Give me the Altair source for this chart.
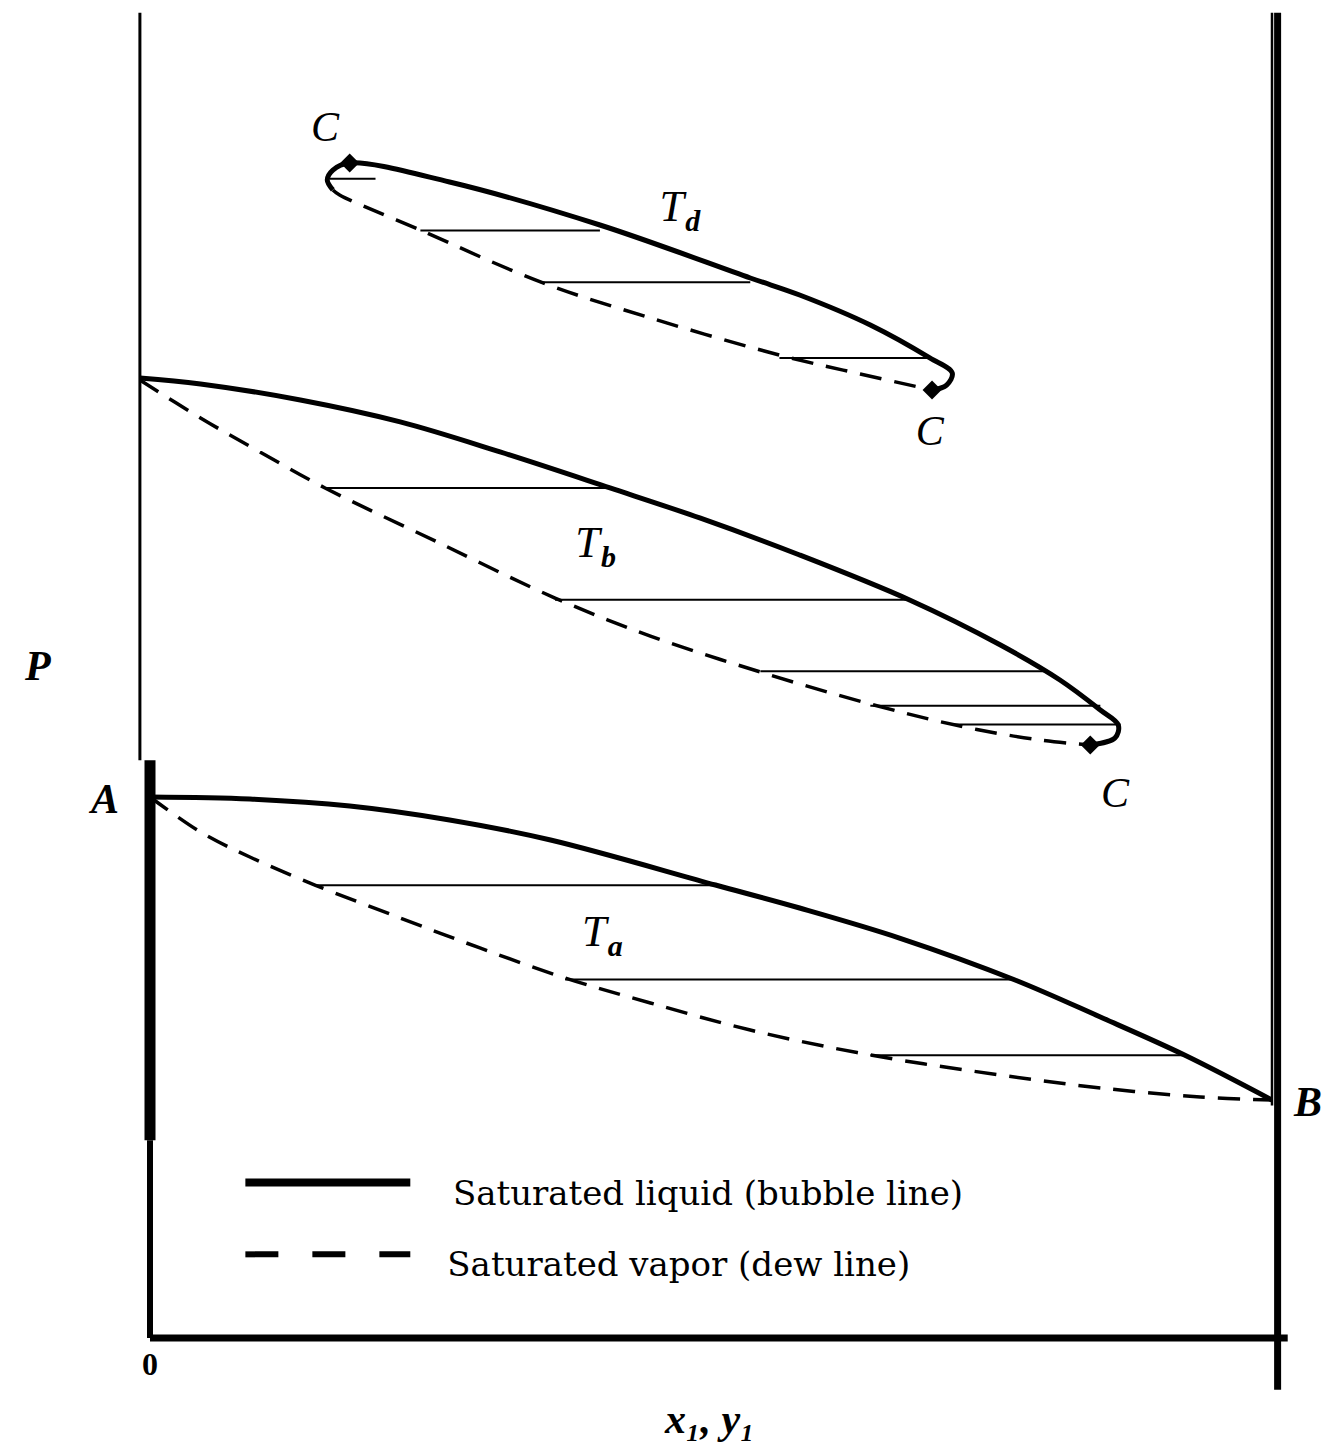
import altair as alt
import pandas as pd

# ---- data (x = mole fraction 0..1, P arbitrary units 0..100) ----
ta_bub_x = [0.0, 0.089, 0.178, 0.267, 0.357, 0.504, 0.579, 0.668, 0.771, 0.847, 0.922, 1.0]
ta_bub_p = [40.74, 40.59, 40.06, 39.01, 37.50, 34.11, 32.38, 30.12, 26.96, 24.17, 21.31, 17.92]
ta_dew_x = [0.0, 0.045, 0.089, 0.147, 0.223, 0.294, 0.370, 0.446, 0.535, 0.642, 0.758, 0.847, 0.936, 1.0]
ta_dew_p = [40.74, 38.10, 36.22, 34.11, 31.63, 29.37, 27.11, 25.23, 23.19, 21.31, 19.80, 18.83, 18.15, 17.92]
ta_tie_p = [34.1, 27.0, 21.3]
ta_tie_x1 = [0.147, 0.370, 0.642]
ta_tie_x2 = [0.504, 0.771, 0.922]

tb_bub_x = [-0.009, 0.045, 0.134, 0.223, 0.312, 0.410, 0.490, 0.579, 0.677, 0.758, 0.811, 0.847, 0.863, 0.860, 0.838]
tb_bub_p = [72.29, 71.84, 70.63, 68.98, 66.72, 64.01, 61.75, 58.96, 55.57, 52.18, 49.55, 47.29, 46.16, 45.18, 44.65]
tb_dew_x = [-0.009, 0.045, 0.098, 0.156, 0.258, 0.361, 0.446, 0.544, 0.642, 0.722, 0.793, 0.838]
tb_dew_p = [72.14, 69.28, 66.72, 64.01, 59.86, 55.72, 52.86, 50.15, 47.74, 46.08, 45.03, 44.65]
tb_tie_p = [64.0, 55.6, 50.2, 47.6, 46.2]
tb_tie_x1 = [0.156, 0.361, 0.544, 0.642, 0.717]
tb_tie_x2 = [0.410, 0.677, 0.798, 0.847, 0.865]

td_bub_x = [0.163, 0.158, 0.163, 0.178, 0.267, 0.401, 0.535, 0.579, 0.642, 0.695, 0.715, 0.710, 0.697]
td_bub_p = [86.45, 87.20, 87.95, 88.48, 87.05, 83.81, 79.82, 78.54, 76.28, 73.80, 72.67, 71.76, 71.39]
td_dew_x = [0.163, 0.169, 0.241, 0.348, 0.446, 0.561, 0.633, 0.697]
td_dew_p = [86.45, 86.07, 83.43, 79.52, 76.81, 74.02, 72.59, 71.39]
td_tie_p = [87.3, 83.4, 79.5, 73.8]
td_tie_x1 = [0.160, 0.241, 0.348, 0.561]
td_tie_x2 = [0.201, 0.401, 0.535, 0.695]

crit_x = [0.178, 0.697, 0.838]
crit_p = [88.48, 71.39, 44.65]

c_label_x = [0.156, 0.695, 0.860]
c_label_p = [91.1, 68.2, 41.0]
c_label_text = ["C", "C", "C"]

t_label_x = [0.465, 0.390, 0.396]
t_label_p = [85.1, 59.8, 30.5]
t_label_sub = ["d", "b", "a"]

end_label_x = [-0.040, 1.032]
end_label_p = [40.5, 17.7]
end_label_text = ["A", "B"]

legend_labels = ["Saturated liquid (bubble line)", "Saturated vapor (dew line)"]
legend_p = [11.7, 6.3]

# frame lines: x, p_start, p_end, width
frame_x = [-0.009, 0.0, 0.0, 1.0, 1.005]
frame_p1 = [43.5, 14.9, 0.0, 17.5, -3.9]
frame_p2 = [99.8, 43.5, 14.9, 99.8, 99.8]
frame_w = [3, 11, 6, 2.5, 7]


def curve_df(xs, ps, name):
    return pd.DataFrame({"x": xs, "p": ps, "curve": name, "i": list(range(len(xs)))})


solid_df = pd.concat([curve_df(ta_bub_x, ta_bub_p, "a"), curve_df(tb_bub_x, tb_bub_p, "b"),
                      curve_df(td_bub_x, td_bub_p, "d")])
dashed_df = pd.concat([curve_df(ta_dew_x, ta_dew_p, "a"), curve_df(tb_dew_x, tb_dew_p, "b"),
                       curve_df(td_dew_x, td_dew_p, "d")])
tie_df = pd.DataFrame({"p": ta_tie_p + tb_tie_p + td_tie_p,
                       "x1": ta_tie_x1 + tb_tie_x1 + td_tie_x1,
                       "x2": ta_tie_x2 + tb_tie_x2 + td_tie_x2})
crit_df = pd.DataFrame({"x": crit_x, "p": crit_p})
clab_df = pd.DataFrame({"x": c_label_x, "p": c_label_p, "t": c_label_text})
tlab_df = pd.DataFrame({"x": t_label_x, "p": t_label_p, "t": ["T"] * 3, "s": t_label_sub})
end_df = pd.DataFrame({"x": end_label_x, "p": end_label_p, "t": end_label_text})
frame_df = pd.DataFrame({"x": frame_x, "p1": frame_p1, "p2": frame_p2, "w": frame_w})
leg_df = pd.DataFrame({"t": legend_labels, "p": legend_p, "x1": [0.085, 0.085], "x2": [0.232, 0.232],
                       "tx": [0.270, 0.265]})

xs = alt.Scale(domain=[0, 1], range=[150, 1272], zero=False, nice=False)
ys = alt.Scale(domain=[0, 100], range=[1338, 10], zero=False, nice=False)
X = alt.X("x:Q", scale=xs, axis=None)
Y = alt.Y("p:Q", scale=ys, axis=None)

solid = alt.Chart(solid_df).mark_line(color="black", strokeWidth=5, interpolate="catmull-rom").encode(
    x=X, y=Y, detail="curve:N", order="i:Q")
dashed = alt.Chart(dashed_df).mark_line(color="black", strokeWidth=3.5, strokeDash=[22, 13],
                                         interpolate="catmull-rom").encode(
    x=X, y=Y, detail="curve:N", order="i:Q")
ties = alt.Chart(tie_df).mark_rule(color="black", strokeWidth=2).encode(
    x=alt.X("x1:Q", scale=xs, axis=None), x2="x2:Q", y=Y)
crit = alt.Chart(crit_df).mark_point(shape="diamond", filled=True, color="black", size=360, opacity=1).encode(
    x=X, y=Y)

frame = alt.Chart(frame_df).mark_rule(color="black").encode(
    x=X, y=alt.Y("p1:Q", scale=ys, axis=None), y2="p2:Q",
    strokeWidth=alt.StrokeWidth("w:Q", scale=None, legend=None))
bottom = alt.Chart(pd.DataFrame({"a": [0.0], "b": [1.014], "p": [0.0]})).mark_rule(
    color="black", strokeWidth=7).encode(x=alt.X("a:Q", scale=xs, axis=None), x2="b:Q", y=Y)

serif = "Liberation Serif"
clab = alt.Chart(clab_df).mark_text(font=serif, fontStyle="italic", fontSize=42, color="black").encode(
    x=X, y=Y, text="t:N")
tlab = alt.Chart(tlab_df).mark_text(font=serif, fontStyle="italic", fontSize=44, color="black").encode(
    x=X, y=Y, text="t:N")
tsub = alt.Chart(tlab_df).mark_text(font=serif, fontStyle="italic", fontWeight="bold", fontSize=30,
                                    color="black", dx=21, dy=14).encode(x=X, y=Y, text="s:N")
endlab = alt.Chart(end_df).mark_text(font=serif, fontStyle="italic", fontWeight="bold", fontSize=42,
                                     color="black").encode(x=X, y=Y, text="t:N")
plab = alt.Chart(pd.DataFrame({"x": [-0.100], "p": [50.5], "t": ["P"]})).mark_text(
    font=serif, fontStyle="italic", fontWeight="bold", fontSize=42, color="black").encode(x=X, y=Y, text="t:N")
zero = alt.Chart(pd.DataFrame({"x": [0.0], "p": [-2.0], "t": ["0"]})).mark_text(
    font=serif, fontWeight="bold", fontSize=32, color="black").encode(x=X, y=Y, text="t:N")
xlab = alt.Chart(pd.DataFrame({"x": [0.499], "p": [-6.2], "t": ["x\u2081, y\u2081"]})).mark_text(
    font=serif, fontStyle="italic", fontWeight="bold", fontSize=42, color="black").encode(x=X, y=Y, text="t:N")

leg_solid = alt.Chart(leg_df.iloc[[0]]).mark_rule(color="black", strokeWidth=8).encode(
    x=alt.X("x1:Q", scale=xs, axis=None), x2="x2:Q", y=Y)
leg_dash = alt.Chart(leg_df.iloc[[1]]).mark_rule(color="black", strokeWidth=6, strokeDash=[33, 34]).encode(
    x=alt.X("x1:Q", scale=xs, axis=None), x2="x2:Q", y=Y)
leg_text = alt.Chart(leg_df).mark_text(font="DejaVu Serif", fontSize=34, color="black", align="left",
                                       dy=12).encode(
    x=alt.X("tx:Q", scale=xs, axis=None), y=Y, text="t:N")

chart = alt.layer(frame, bottom, ties, solid, dashed, crit, clab, tlab, tsub, endlab, plab, zero, xlab,
                  leg_solid, leg_dash, leg_text).properties(
    width=1335, height=1451, autosize=alt.AutoSizeParams(type="none"), padding=0,
    background="white").configure_view(stroke=None)

chart.save("out.html", embed_options={"renderer": "svg", "actions": False})
